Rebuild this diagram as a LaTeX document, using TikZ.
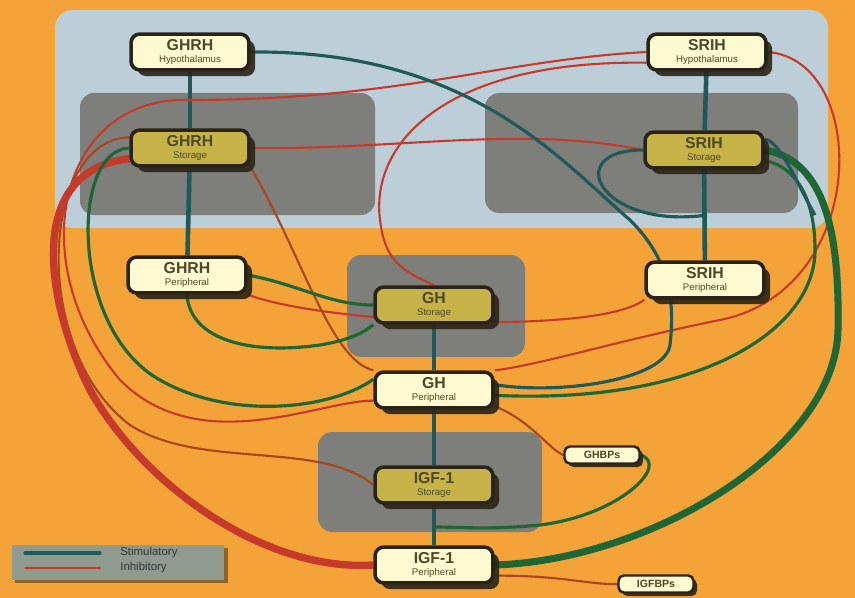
\documentclass[tikz,border=0pt]{standalone}
\usepackage{fontspec}
\setmainfont{Liberation Sans}
\usetikzlibrary{calc, shadows}

\definecolor{bgorange}{HTML}{F4A338}
\definecolor{panelblue}{HTML}{BCCFD9}
\definecolor{boxgray}{HTML}{7E7F7B}
\definecolor{cream}{HTML}{FDF9D0}
\definecolor{olivefill}{HTML}{C6B347}
\definecolor{edgedark}{HTML}{2A2418}
\definecolor{labelolive}{HTML}{4D4828}
\definecolor{stimgreen}{HTML}{1E6633}
\definecolor{stimteal}{HTML}{205A58}
\definecolor{inhibred}{HTML}{C63A2B}
\definecolor{inhibbrown}{HTML}{A8461F}
\definecolor{legendgray}{HTML}{8F9B8E}
\definecolor{legendtext}{HTML}{2F3838}

\pgfdeclarelayer{back}
\pgfdeclarelayer{wires}
\pgfsetlayers{back,wires,main}

% two-line label of a hormone box
\newcommand{\hlab}[2]{{\fontsize{9}{7}\selectfont\bfseries #1}\\{#2}}

\begin{document}
\begin{tikzpicture}[x=0.02cm, y=-0.02cm, line cap=round,
  pill/.style={draw=edgedark, line width=2pt, rounded corners=5pt, fill=cream,
    text=labelolive, minimum width=2.36cm, minimum height=0.68cm, inner xsep=1pt, inner ysep=3pt,
    align=center, font=\fontsize{5.5}{7}\selectfont},
  hormone/.style={pill, drop shadow={shadow xshift=3.5pt, shadow yshift=-3.5pt, fill=edgedark, opacity=0.9}},
  store/.style={hormone, fill=olivefill},
  binder/.style={pill, minimum width=1.5cm, minimum height=0.34cm, rounded corners=3pt, inner ysep=1pt,
    line width=1.4pt, font=\fontsize{6}{6}\selectfont\bfseries,
    drop shadow={shadow xshift=2pt, shadow yshift=-2pt, fill=edgedark, opacity=0.9}},
  axis/.style={stimteal, line width=2.6pt},
  stim/.style={stimgreen, line width=1.8pt},
  stimb/.style={stimteal, line width=1.8pt},
  inhib/.style={inhibred, line width=1.2pt},
  inhibb/.style={inhibbrown, line width=1.2pt},
  panel/.style={fill=boxgray, rounded corners=8pt},
  legtext/.style={text=legendtext, font=\fontsize{6.5}{7}\selectfont, anchor=west, inner sep=0pt}]

\useasboundingbox (0,0) rectangle (855,598);

% hypothalamus row
\node[hormone] (ghrhH) at (190,52) {\hlab{GHRH}{Hypothalamus}};
\node[hormone] (srihH) at (707,52) {\hlab{SRIH}{Hypothalamus}};

% storage row
\node[store] (ghrhS) at (190,148) {\hlab{GHRH}{Storage}};
\node[store] (srihS) at (704,150) {\hlab{SRIH}{Storage}};

% peripheral row
\node[hormone] (ghrhP) at (187,275) {\hlab{GHRH}{Peripheral}};
\node[hormone] (srihP) at (705,280) {\hlab{SRIH}{Peripheral}};

% GH and IGF-1
\node[store] (ghS) at (434,305) {\hlab{GH}{Storage}};
\node[hormone] (ghP) at (434,390) {\hlab{GH}{Peripheral}};
\node[store] (igfS) at (434,485) {\hlab{IGF-1}{Storage}};
\node[hormone] (igfP) at (434,565) {\hlab{IGF-1}{Peripheral}};

% binding proteins
\node[binder] (ghbp) at (602,455) {GHBPs};
\node[binder] (igfbp) at (656,584) {IGFBPs};

% legend
\node[fill=legendgray, minimum width=4.26cm, minimum height=0.7cm, inner sep=0pt,
  drop shadow={shadow xshift=2pt, shadow yshift=-2pt, fill=edgedark}] (legend) at (118,562) {};
\coordinate (stimA) at (25,553);
\coordinate (stimB) at (100,553);
\coordinate (inhA) at (25,568);
\coordinate (inhB) at (100,568);
\node[legtext] (stimtxt) at (120,553) {Stimulatory};
\node[legtext] (inhtxt) at (120,568) {Inhibitory};
\draw[stimb] (stimA) -- (stimB);
\draw[inhibred, line width=1pt] (inhA) -- (inhB);

% points on the axes
\coordinate (ghrhA) at (190,100);
\coordinate (srihA) at (707,215);
\coordinate (igfA) at (434,527);

\begin{pgfonlayer}{back}
\fill[bgorange] (0,0) rectangle (855,598);
\fill[panelblue, rounded corners=10pt] (55,10) rectangle (828,228);
\fill[panel] (80,93) rectangle (375,215);
\fill[panel] (485,93) rectangle (798,213);
\fill[panel] (347,255) rectangle (525,357);
\fill[panel] (318,432) rectangle (542,532);
\end{pgfonlayer}

\begin{pgfonlayer}{wires}
% vertical axes
\draw[axis] (ghrhH) -- (ghrhS);
\draw[axis] (ghrhS) -- (ghrhP);
\draw[axis] (srihH) -- (srihS);
\draw[axis] (srihS) -- (srihP);
\draw[axis] (ghS) -- (ghP);
\draw[axis] (ghP) -- (igfS);
\draw[axis] (igfS) -- (igfP);

% inhibitory
\draw[inhib] (srihH.west) .. controls (500,60) and (400,100) .. (ghrhA);
\draw[inhib] (ghrhS.east) .. controls (400,150) and (520,125) .. (srihS.west);
\draw[inhib] (srihH.190) .. controls (450,60) and (370,140) .. (380,220)
  .. controls (385,260) and (400,270) .. (ghS.north);
\draw[inhib] (srihH.east) .. controls (870,60) and (870,290) .. (720,320)
  .. controls (620,340) and (540,365) .. (ghP.north east);
\draw[inhib] (srihP.south west) .. controls (600,335) and (330,325) .. (ghrhP.south east);
\draw[inhib] (ghrhA) .. controls (60,95) and (20,260) .. (120,380)
  .. controls (200,460) and (320,400) .. (ghP.190);
\draw[inhibb] (ghrhS.south east) .. controls (300,250) and (330,360) .. (ghP.north west);
\draw[inhibb] (ghrhS.170) .. controls (40,140) and (30,350) .. (130,425)
  .. controls (200,470) and (320,440) .. (igfS.west);
\draw[inhibb] (ghP.-15) .. controls (530,420) and (550,450) .. (ghbp.west);
\draw[inhibb] (igfP.-10) .. controls (560,575) and (590,585) .. (igfbp.west);
\draw[inhibred, line width=4.2pt] (igfP.west) .. controls (260,572) and (140,480) .. (90,390)
  .. controls (45,300) and (25,170) .. (ghrhS.190);

% stimulatory
\draw[stimb] (ghrhH.east) .. controls (470,50) and (560,160) .. (630,220)
  .. controls (670,260) and (675,300) .. (670,345)
  .. controls (665,380) and (560,395) .. (ghP.5);
\draw[stim] (ghP.-5) .. controls (700,405) and (815,330) .. (815,250)
  .. controls (815,190) and (790,165) .. (srihS.-10);
\draw[stimgreen, line width=4pt] (igfP.east) .. controls (650,560) and (835,450) .. (838,330)
  .. controls (840,220) and (820,160) .. (srihS.east);
\draw[stimb] (srihS.west) .. controls (560,150) and (600,230) .. (srihA);
\draw[stimb] (srihS.10) .. controls (780,140) and (800,190) .. (815,215);
\draw[stim] (ghrhP.east) .. controls (300,285) and (330,305) .. (ghS.west);
\draw[stim] (ghrhP.south) .. controls (190,340) and (250,355) .. (320,345)
  .. controls (350,340) and (365,332) .. (ghS.south west);
\draw[stim] (ghrhS.west) .. controls (70,150) and (70,330) .. (160,380)
  .. controls (230,420) and (330,410) .. (ghP.170);
\draw[stim] (ghbp.east) .. controls (670,465) and (620,515) .. (540,525)
  .. controls (490,530) and (460,527) .. (igfA);
\end{pgfonlayer}

\end{tikzpicture}
\end{document}
